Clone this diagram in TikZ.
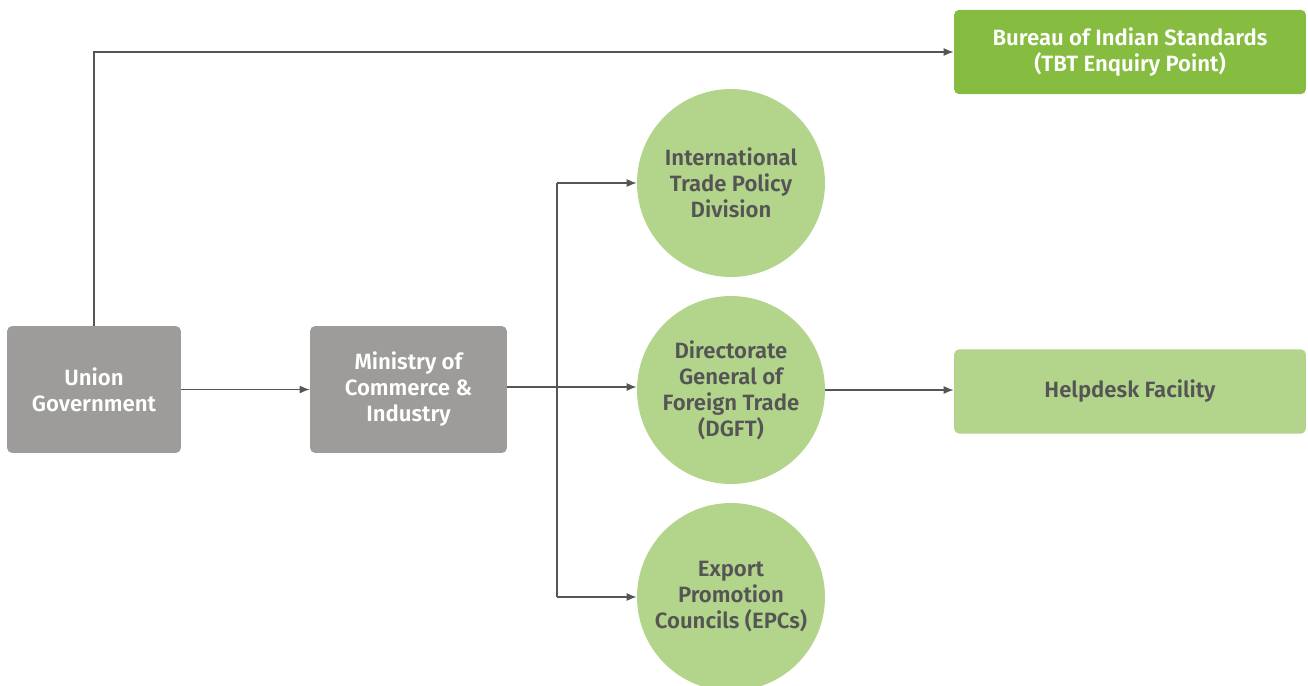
\documentclass[tikz,border=0pt]{standalone}
\usepackage{fontspec}
\setmainfont{Fira Sans}[BoldFont={Fira Sans SemiBold}]
\usetikzlibrary{arrows.meta, positioning, calc}
\definecolor{govgray}{HTML}{9D9C9A}
\definecolor{bisgreen}{HTML}{86BC40}
\definecolor{lightgreen}{HTML}{B3D48B}
\definecolor{inkgray}{HTML}{555555}
\begin{document}
\begin{tikzpicture}[x=0.02cm, y=-0.02cm,
    every node/.style={font=\bfseries\fontsize{12.6}{14.8}\selectfont, align=center, inner sep=0pt},
    govbox/.style={fill=govgray, text=white, rounded corners=3pt, minimum height=2.54cm},
    greenbox/.style={rounded corners=3pt, minimum width=7.04cm, minimum height=1.69cm},
    unit/.style={circle, fill=lightgreen, text=inkgray, minimum size=3.76cm},
    arrow/.style={-{Latex[length=2mm, width=1.6mm]}, draw=inkgray, line width=0.75pt}
]
\useasboundingbox (0,0) rectangle (1308,686);
% left-hand boxes
\node[govbox, minimum width=3.48cm] (union) at (94,389.5) {Union\\ Government};
\node[govbox, minimum width=3.94cm] (ministry) at (408.5,389.5) {Ministry of\\ Commerce \&\\ Industry};
% divisions under the ministry
\node[unit] (itpd) at (731,183) {International\\ Trade Policy\\ Division};
\node[unit] (dgft) at (731,390) {Directorate\\ General of\\ Foreign Trade\\ (DGFT)};
\node[unit] (epc) at (731,597) {Export\\ Promotion\\ Councils (EPCs)};
% right-hand boxes
\node[greenbox, fill=bisgreen, text=white] (bis) at (1130,52) {Bureau of Indian Standards\\ (TBT Enquiry Point)};
\node[greenbox, fill=lightgreen, text=inkgray] (help) at (1130,391.5) {Helpdesk Facility};
% connectors
\coordinate (split) at (557,387);
\draw[arrow] (union.north) |- (bis.west);
\draw[arrow] (union.east) -- (ministry.east -| ministry.west);
\draw[draw=inkgray, line width=0.75pt] (ministry.east |- split) -- (split);
\draw[draw=inkgray, line width=0.75pt] (split |- itpd.west) -- (split |- epc.west);
\draw[arrow] (split |- itpd.west) -- (itpd.west);
\draw[arrow] (split) -- (split -| dgft.west);
\draw[arrow] (split |- epc.west) -- (epc.west);
\draw[arrow] (dgft.east) -- (help.west |- dgft.east);
\end{tikzpicture}
\end{document}
